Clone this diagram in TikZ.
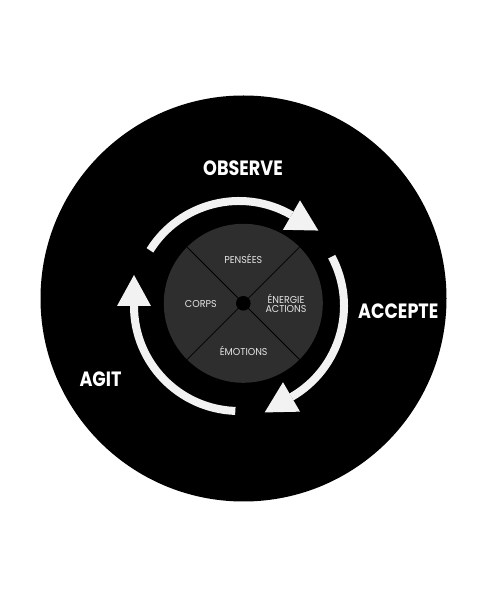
\documentclass[tikz,border=0pt]{standalone}
\usepackage{fontspec}
\newfontfamily\labfont[FakeStretch=0.85]{Poppins}
\newfontfamily\innerfont[FakeStretch=0.95]{Poppins}
\definecolor{ringwhite}{RGB}{242,242,242}
\definecolor{discgrey}{RGB}{46,46,46}
\definecolor{txtgrey}{RGB}{228,228,228}
\begin{document}
\begin{tikzpicture}[x=1pt,y=1pt,
  labeltext/.style={text=white, font=\labfont\bfseries\fontsize{20.7}{22}\selectfont, inner sep=0pt, anchor=base},
  innertext/.style={text=txtgrey, font=\innerfont\fontsize{10}{10}\selectfont, inner sep=0pt, anchor=base},
  ringarc/.style={draw=ringwhite, line width=8pt},
  headfill/.style={fill=ringwhite},
  divider/.style={draw=black, line width=0.8pt}
]
\useasboundingbox (0,0) rectangle (489,597);
\fill[white] (0,0) rectangle (489,597);
\coordinate (outerc) at (243.5,298.5);
\coordinate (discc) at (243.3,293.7);
\coordinate (ringc) at (239,291);
\fill[black] (outerc) circle[radius=203];
\fill[discgrey] (discc) circle[radius=79.5];
\foreach \a in {45,135,225,315} \draw[divider] (discc) -- ++(\a:79.5);
\fill[black] (discc) circle[radius=7.3];
\foreach \t/\b in {148/60, 28/-60, -92/-180} {
  \begin{scope}[shift={(ringc)}]
    \draw[ringarc] (\t:105) arc[start angle=\t, end angle=\b, radius=105];
    \begin{scope}[rotate=\b]
      \fill[headfill] (122,0) -- (88,0) -- (105,-31) -- cycle;
    \end{scope}
  \end{scope}
}
\node[labeltext] (observe) at (243,421) {OBSERVE};
\node[labeltext] (accepte) at (398.3,278.7) {ACCEPTE};
\node[labeltext] (agit) at (100.5,210.3) {AGIT};
\node[innertext] (pensees) at (243.3,333) {PENSÉES};
\node[innertext] (corps) at (200.8,289.3) {CORPS};
\node[innertext] (emotions) at (243.7,241.3) {ÉMOTIONS};
\node[innertext] (energie) at (286,293.2) {ÉNERGIE};
\node[innertext] (actions) at (286,284.2) {ACTIONS};
\end{tikzpicture}
\end{document}
